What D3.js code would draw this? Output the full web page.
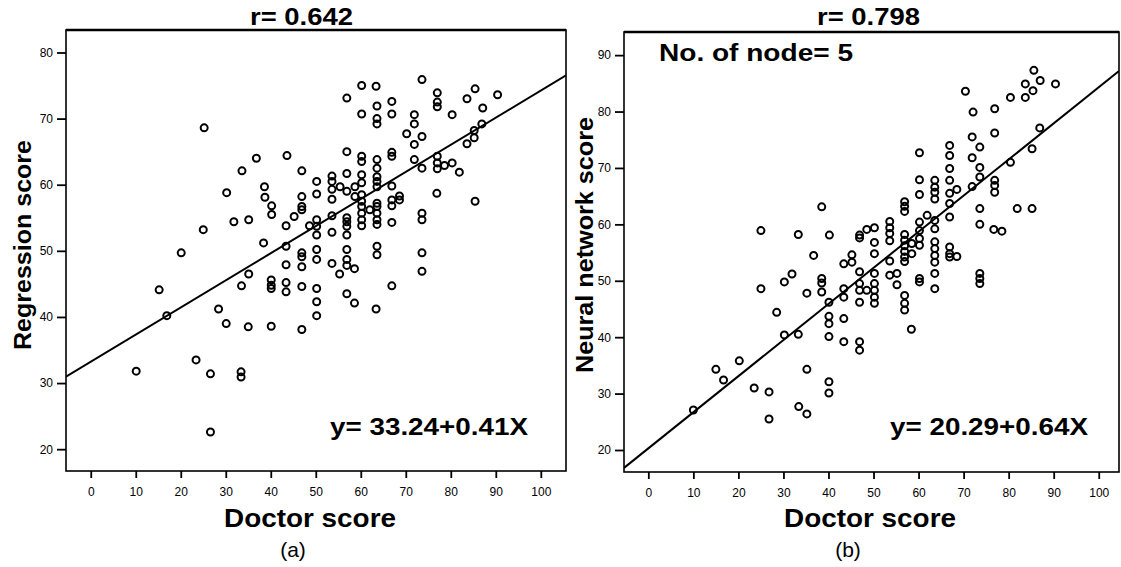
<!DOCTYPE html>
<html>
<head>
<meta charset="utf-8">
<script src="https://cdn.jsdelivr.net/npm/d3@7"></script>
<style>
body { margin: 0; background: #fff; }
svg text { font-family: "Liberation Sans", Arial, Helvetica, sans-serif; fill: #000; }
.tick text { font-family: "Liberation Sans Narrow", "Liberation Sans", Arial, sans-serif; font-size: 12px; }
.tick line { stroke: #000; stroke-width: 1.8; }
</style>
</head>
<body>
<svg id="chart" width="1121" height="567"></svg>
<script>
// doctor score ticks, shared by both panels
var xTicks = [0, 10, 20, 30, 40, 50, 60, 70, 80, 90, 100];
var yTicksA = [20, 30, 40, 50, 60, 70, 80];
var yTicksB = [20, 30, 40, 50, 60, 70, 80, 90];

// (a) doctor score vs regression score
var regressionPoints = [
    [10.1,31.8],[15.2,44.1],[16.9,40.2],[20.1,49.7],[23.4,33.5],[25.2,68.6],[25.0,53.2],[26.6,31.4],[26.6,22.6],
    [28.4,41.2],[30.1,39.0],[30.2,58.8],[31.8,54.4],[33.4,31.7],[33.4,30.9],[33.5,44.7],[33.6,62.1],[35.1,54.7],
    [35.1,46.5],[35.0,38.5],[36.8,64.0],[38.4,51.2],[38.6,59.7],[38.7,58.1],[40.2,56.8],[40.2,55.5],[40.1,45.6],
    [40.1,44.8],[40.1,44.3],[40.1,38.6],
    [43.6,64.4],[43.4,53.8],[43.4,50.7],[43.4,47.9],[43.4,45.2],[43.4,43.8],[45.2,55.2],
    [46.9,62.1],[46.9,58.2],[46.9,56.7],[46.9,56.2],[46.9,49.7],[46.9,49.1],[46.9,47.6],[46.9,44.6],[46.9,38.1],
    [48.6,53.8],
    [50.2,60.5],[50.2,58.6],[50.2,54.7],[50.2,53.7],[50.2,52.4],[50.2,50.2],[50.2,48.7],[50.2,44.3],[50.2,42.3],[50.2,40.2],
    [53.6,61.3],[53.6,60.5],[53.6,59.3],[53.6,57.8],[53.6,55.3],[53.6,52.8],[53.6,48.1],
    [55.4,59.7],[55.3,46.5],
    [56.9,73.1],[56.9,65.0],[56.9,61.7],[56.9,59.0],[56.9,55.0],[56.9,54.4],[56.9,53.7],[56.9,52.4],[56.9,50.2],
    [56.9,48.7],[56.9,47.8],[56.9,43.5],
    [58.7,59.7],[58.7,58.2],[58.6,47.3],[58.6,42.1],
    [60.2,75.0],[60.2,70.7],[60.2,64.3],[60.2,63.5],[60.2,61.5],[60.2,60.3],[60.2,58.5],[60.2,57.5],[60.2,56.7],
    [60.2,55.7],[60.2,54.7],[60.2,53.8],
    [62.0,56.2],
    [63.4,74.9],[63.6,71.9],[63.6,70.0],[63.6,69.2],[63.6,63.8],[63.6,62.5],[63.6,61.2],[63.6,60.5],[63.6,59.7],
    [63.6,57.2],[63.6,56.7],[63.6,55.7],[63.6,54.7],[63.6,54.0],[63.6,50.7],[63.6,49.4],[63.4,41.2],
    [66.9,72.6],[66.9,70.7],[66.9,64.9],[66.9,64.3],[66.9,59.8],[66.9,57.7],[66.9,56.8],[66.9,54.3],[66.9,44.7],
    [68.6,58.3],[68.6,57.7],[70.2,67.7],
    [71.9,70.6],[71.9,69.2],[71.9,66.1],[71.9,63.8],
    [73.6,75.9],[73.6,67.3],[73.6,62.5],[73.6,55.7],[73.6,54.7],[73.6,49.7],[73.6,46.9],
    [77.0,73.9],[77.0,72.5],[77.0,71.8],[77.0,64.3],[77.0,63.3],[77.0,62.4],[76.9,58.7],
    [78.6,62.9],[80.3,70.6],[80.3,63.3],[81.9,61.9],[83.6,73.0],[83.6,66.2],
    [85.4,74.5],[85.2,68.2],[85.2,67.1],[85.4,57.5],[87.1,71.6],[86.9,69.2],[90.4,73.6]
];

// (b) doctor score vs neural network score
var networkPoints = [
    [10.0,27.1],[15.0,34.3],[16.7,32.4],[20.2,35.8],[23.5,31.0],[25.0,58.9],[25.0,48.6],[26.8,30.3],[26.8,25.5],
    [28.5,44.4],[30.2,49.8],[30.2,40.4],[31.9,51.2],[33.3,58.2],[33.3,40.5],[33.4,27.7],[35.2,47.8],[35.2,34.3],
    [35.2,26.4],[36.7,54.5],[38.5,63.1],[38.5,50.4],[38.5,49.6],[38.5,48.0],
    [40.2,58.1],[40.1,46.2],[40.1,43.7],[40.1,42.4],[40.1,40.1],[40.1,32.1],[40.1,30.1],
    [43.4,53.0],[43.4,48.6],[43.4,47.1],[43.4,43.3],[43.4,39.2],
    [45.2,54.6],[45.2,53.3],
    [46.9,58.1],[46.9,57.6],[46.9,51.6],[46.9,49.5],[46.9,48.3],[46.9,46.2],[46.9,39.2],[46.9,37.7],
    [48.5,59.1],[48.5,48.3],
    [50.2,59.4],[50.2,56.8],[50.2,54.8],[50.2,51.3],[50.2,49.5],[50.2,48.3],[50.2,47.1],[50.2,46.0],
    [53.6,60.5],[53.6,59.4],[53.6,58.4],[53.6,57.1],[53.6,53.5],[53.6,51.0],
    [55.2,51.3],[55.2,49.3],
    [56.9,64.0],[56.9,63.2],[56.9,62.3],[56.9,58.2],[56.9,57.2],[56.9,56.2],[56.9,55.2],[56.9,54.2],[56.9,53.4],
    [56.9,47.4],[56.9,46.0],[56.9,44.8],
    [58.5,56.6],[58.5,54.8],[58.4,41.4],
    [60.2,72.7],[60.2,67.9],[60.2,65.3],[60.2,60.4],[60.2,58.9],[60.2,57.5],[60.2,56.3],[60.2,50.4],[60.2,49.8],
    [61.9,61.6],
    [63.6,67.8],[63.6,66.6],[63.6,65.7],[63.6,64.5],[63.6,60.7],[63.6,59.2],[63.6,56.9],[63.6,55.7],[63.6,54.5],
    [63.6,53.3],[63.6,51.3],[63.6,48.6],
    [66.9,74.0],[66.9,72.2],[66.9,69.9],[66.9,67.8],[66.9,65.5],[66.9,63.7],[66.9,61.3],[66.9,56.0],[66.9,54.8],[66.9,54.2],
    [68.5,66.2],[68.5,54.3],[70.4,83.6],
    [72.1,79.9],[71.9,75.5],[71.9,71.8],[71.9,66.7],
    [73.6,73.7],[73.6,70.1],[73.6,68.4],[73.6,62.8],[73.6,60.0],[73.6,51.3],[73.6,50.4],[73.6,49.5],
    [76.9,80.5],[76.9,76.2],[76.9,67.8],[76.9,66.9],[76.9,65.7],[76.7,59.1],
    [78.5,58.8],[80.4,82.5],[80.4,71.0],[81.9,62.8],[83.7,84.9],[83.7,82.5],
    [85.6,87.3],[85.4,83.7],[85.2,73.4],[85.2,62.8],[87.0,85.5],[86.9,77.1],[90.4,84.9]
];

var fitA = {intercept: 33.24, slope: 0.41};
var fitB = {intercept: 20.29, slope: 0.64};

var svg = d3.select('#chart');

function boldText(g, x, y, str, size, len, anchor) {
    return g.append('text')
        .attr('x', x).attr('y', y)
        .attr('text-anchor', anchor || 'start')
        .attr('font-weight', 'bold')
        .attr('font-size', size)
        .attr('textLength', len)
        .attr('lengthAdjust', 'spacingAndGlyphs')
        .text(str);
}

function drawPanel(p) {
    var g = svg.append('g');
    var x = d3.scaleLinear().domain(p.xDomain).range([p.left, p.right]);
    var y = d3.scaleLinear().domain(p.yDomain).range([p.bottom, p.top]);

    svg.append('clipPath').attr('id', p.id + '-clip')
        .append('rect')
        .attr('x', p.left).attr('y', p.top)
        .attr('width', p.right - p.left).attr('height', p.bottom - p.top);

    var xAxis = g.append('g')
        .attr('transform', 'translate(0,' + p.bottom + ')')
        .call(d3.axisBottom(x).tickValues(xTicks).tickSize(7).tickSizeOuter(0).tickPadding(9));
    var yAxis = g.append('g')
        .attr('transform', 'translate(' + p.left + ',0)')
        .call(d3.axisLeft(y).tickValues(p.yTicks).tickSize(9).tickSizeOuter(0).tickPadding(4));
    xAxis.select('.domain').remove();
    yAxis.select('.domain').remove();

    // frame
    g.append('rect')
        .attr('x', p.left).attr('y', p.top)
        .attr('width', p.right - p.left).attr('height', p.bottom - p.top)
        .attr('fill', 'none').attr('stroke', '#000').attr('stroke-width', 1.6);
    g.append('line')
        .attr('x1', p.left).attr('x2', p.right)
        .attr('y1', p.top).attr('y2', p.top)
        .attr('stroke', '#000').attr('stroke-width', 2.4);

    var inner = g.append('g').attr('clip-path', 'url(#' + p.id + '-clip)');

    // fitted line
    var line = d3.line()
        .x(function(d) { return x(d); })
        .y(function(d) { return y(p.fit.intercept + p.fit.slope * d); });
    inner.append('path')
        .datum(p.xDomain)
        .attr('d', line)
        .attr('fill', 'none').attr('stroke', '#000').attr('stroke-width', 2);

    inner.selectAll('circle')
        .data(p.points)
        .enter().append('circle')
        .attr('cx', function(d) { return x(d[0]); })
        .attr('cy', function(d) { return y(d[1]); })
        .attr('r', 3.5)
        .attr('fill', 'none')
        .attr('stroke', '#000')
        .attr('stroke-width', 2);

    // labels
    boldText(g, p.titleX, 25, p.title, 23, 103, 'start');
    boldText(g, p.xLabelX, 527, 'Doctor score', 26, 172, 'middle');
    boldText(g, 0, 0, p.yLabel, 24, p.yLabelLen, 'middle')
        .attr('transform', 'translate(' + p.yLabelX + ',245) rotate(-90)');
    boldText(g, p.eqX, 435, p.equation, 23, 198, 'start');
    g.append('text')
        .attr('x', p.tagX).attr('y', 557)
        .attr('text-anchor', 'middle')
        .attr('font-size', 21)
        .text(p.tag);
}

drawPanel({
    id: 'a', left: 66, right: 566, top: 30, bottom: 471,
    xDomain: [-5.5, 105.6], yDomain: [16.7, 83.4], yTicks: yTicksA,
    points: regressionPoints, fit: fitA,
    title: 'r= 0.642', titleX: 250,
    xLabelX: 310, yLabel: 'Regression score', yLabelX: 31, yLabelLen: 210,
    equation: 'y= 33.24+0.41X', eqX: 330,
    tag: '(a)', tagX: 293
});

drawPanel({
    id: 'b', left: 624, right: 1119, top: 32, bottom: 472,
    xDomain: [-5.4, 104.5], yDomain: [16.1, 94.1], yTicks: yTicksB,
    points: networkPoints, fit: fitB,
    title: 'r= 0.798', titleX: 817,
    xLabelX: 870, yLabel: 'Neural network score', yLabelX: 593, yLabelLen: 256,
    equation: 'y= 20.29+0.64X', eqX: 890,
    tag: '(b)', tagX: 848
});

boldText(svg, 659, 61, 'No. of node= 5', 23, 194, 'start');
</script>
</body>
</html>
